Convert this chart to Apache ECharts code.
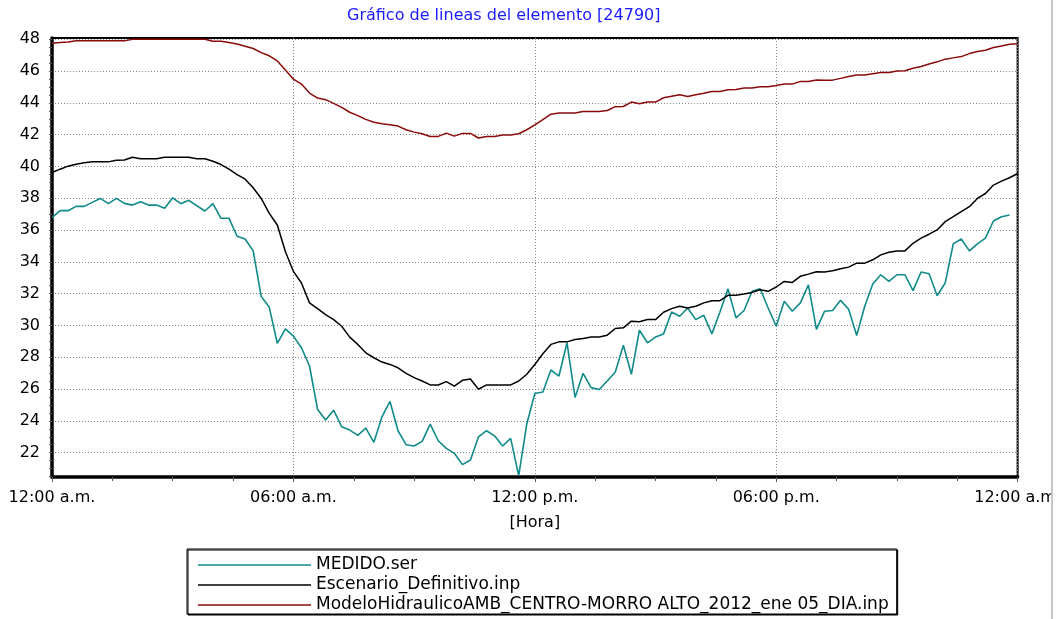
<!DOCTYPE html>
<html>
<head>
<meta charset="utf-8">
<script src="https://cdn.jsdelivr.net/npm/echarts@6/dist/echarts.min.js"></script>
<style>
  html, body { margin: 0; padding: 0; background: #fff; }
  #chart { width: 1064px; height: 619px; }
</style>
</head>
<body>
<div id="chart"></div>
<script>
// minutes between samples
const STEP_MIN = 12

const SERIES_NAMES = [
  'MEDIDO.ser',
  'Escenario_Definitivo.inp',
  'ModeloHidraulicoAMB_CENTRO-MORRO ALTO_2012_ene 05_DIA.inp'
]

// measured values, one every 12 minutes from 12:00 a.m.
const medido = [
  36.78, 37.22, 37.22, 37.49, 37.49, 37.74, 37.99, 37.66, 37.99, 37.68, 37.57, 37.78, 37.57,
  37.57, 37.37, 38.03, 37.66, 37.87, 37.53, 37.20, 37.66, 36.74, 36.74, 35.61, 35.44,
  34.69, 31.83, 31.14, 28.87, 29.79, 29.33, 28.6, 27.45, 24.73, 24.05, 24.67, 23.63,
  23.42, 23.09, 23.54, 22.65, 24.25, 25.22, 23.38, 22.50, 22.42, 22.71, 23.80, 22.75,
  22.27, 21.96, 21.25, 21.54, 23.0, 23.38, 23.06, 22.42, 22.90, 20.56, 23.80, 25.72,
  25.82, 27.2, 26.82, 28.91, 25.47, 26.99, 26.09, 25.97, 26.51, 27.07, 28.76,
  26.93, 29.70, 28.91, 29.27, 29.47, 30.85, 30.58, 31.10, 30.37, 30.64, 29.47, 30.83,
  32.31, 30.48, 30.94, 32.15, 32.31, 31.10, 29.95, 31.52, 30.89, 31.42, 32.56, 29.75,
  30.89, 30.94, 31.58, 31.02, 29.37, 31.21, 32.61, 33.19, 32.77, 33.19, 33.19, 32.19,
  33.36, 33.25, 31.87, 32.67, 35.13, 35.44, 34.69, 35.13, 35.49, 36.57, 36.84, 36.95
]

const escenario = [
  39.62, 39.83, 40.02, 40.14, 40.23, 40.29, 40.29, 40.29, 40.39, 40.41, 40.58, 40.48, 40.48,
  40.48, 40.58, 40.58, 40.58, 40.58, 40.48, 40.48, 40.33, 40.12, 39.83, 39.49, 39.20,
  38.66, 37.99, 37.05, 36.32, 34.65, 33.40, 32.67, 31.42, 31.06, 30.68, 30.37, 29.95,
  29.27, 28.81, 28.28, 27.97, 27.70, 27.55, 27.34, 26.99, 26.72, 26.51, 26.26, 26.26,
  26.47, 26.18, 26.55, 26.63, 25.99, 26.26, 26.26, 26.26, 26.26, 26.51, 26.93, 27.55,
  28.22, 28.81, 28.97, 28.97, 29.12, 29.18, 29.27, 29.27, 29.39, 29.81, 29.85,
  30.27, 30.23, 30.37, 30.37, 30.83, 31.06, 31.21, 31.10, 31.21, 31.42, 31.56, 31.56,
  31.90, 31.90, 31.98, 32.08, 32.25, 32.15, 32.42, 32.77, 32.71, 33.09, 33.23, 33.38,
  33.36, 33.44, 33.57, 33.67, 33.92, 33.92, 34.13, 34.44, 34.61, 34.69, 34.69, 35.17,
  35.49, 35.74, 36.01, 36.53, 36.84, 37.16, 37.47, 37.99, 38.30, 38.83, 39.08, 39.29, 39.56
]

const modelo = [
  47.75, 47.79, 47.83, 47.9, 47.9, 47.9, 47.9, 47.9, 47.9, 47.9, 48.0, 48.0, 48.0,
  48.0, 48.0, 48.0, 48.0, 48.0, 48.0, 48.0, 47.88, 47.87, 47.8, 47.7, 47.56,
  47.42, 47.16, 46.96, 46.64, 46.06, 45.49, 45.18, 44.62, 44.30, 44.20, 43.97, 43.72,
  43.41, 43.2, 42.96, 42.78, 42.68, 42.62, 42.54, 42.31, 42.16, 42.06, 41.89, 41.89,
  42.10, 41.91, 42.08, 42.08, 41.79, 41.89, 41.89, 41.98, 41.98, 42.06, 42.31, 42.62,
  42.94, 43.29, 43.37, 43.37, 43.37, 43.46, 43.46, 43.46, 43.52, 43.76, 43.77,
  44.05, 43.94, 44.05, 44.05, 44.32, 44.42, 44.51, 44.40, 44.51, 44.61, 44.72, 44.72,
  44.82, 44.84, 44.93, 44.93, 45.01, 45.01, 45.09, 45.18, 45.18, 45.35, 45.35, 45.44,
  45.43, 45.43, 45.54, 45.66, 45.75, 45.75, 45.83, 45.91, 45.91, 46.0, 46.02, 46.18,
  46.29, 46.45, 46.58, 46.75, 46.83, 46.91, 47.10, 47.23, 47.31, 47.48, 47.58, 47.69, 47.72
]

const X_TICKS = [0, 360, 720, 1080, 1440]
const X_LABELS = ['12:00 a.m.', '06:00 a.m.', '12:00 p.m.', '06:00 p.m.', '12:00 a.m.']
const Y_LABELS = [22, 24, 26, 28, 30, 32, 34, 36, 38, 40, 42, 44, 46, 48]
const Y_MIN = 20.47
const Y_MAX = 48.08

// minor ticks every 0.5
const yMinor = []
for (let v = 20.5; v <= 48; v += 0.5) yMinor.push(Math.round(v * 10) / 10)

const toPairs = (arr) => arr.map((v, i) => [i * STEP_MIN, v])

const FONT = 'DejaVu Sans'

const chart = echarts.init(document.getElementById('chart'))

const option = {
  animation: false,
  backgroundColor: '#fff',
  title: {
    text: 'Gráfico de lineas del elemento [24790]',
    left: 347,
    top: 8,
    padding: 0,
    textStyle: { fontFamily: FONT, fontSize: 16, fontWeight: 'normal', color: '#1a1aff' }
  },
  grid: {
    left: 52,
    right: 45.5,
    top: 38,
    bottom: 142,
    show: true,
    borderColor: '#000',
    borderWidth: 2
  },
  legend: {
    orient: 'vertical',
    left: 187,
    top: 549,
    padding: [7, 8, 0, 11],
    itemGap: 2,
    itemWidth: 113,
    itemHeight: 1.5,
    icon: 'rect',
    backgroundColor: '#fff',
    borderColor: '#000',
    borderWidth: 1,
    shadowColor: '#000',
    shadowOffsetX: 1,
    shadowOffsetY: 1,
    shadowBlur: 0,
    textStyle: { fontFamily: FONT, fontSize: 17, color: '#000', lineHeight: 18 },
    data: SERIES_NAMES
  },
  xAxis: {
    type: 'value',
    min: 0,
    max: 1440,
    interval: 360,
    name: '[Hora]',
    nameLocation: 'middle',
    nameGap: 38,
    nameTextStyle: { fontFamily: FONT, fontSize: 16, color: '#000' },
    axisLine: { show: true, lineStyle: { color: '#000', width: 3.5 } },
    axisTick: { show: true, length: 5, lineStyle: { color: '#555' } },
    minorTick: { show: true, splitNumber: 4, length: 4, lineStyle: { color: '#555' } },
    axisLabel: {
      margin: 13,
      fontFamily: FONT,
      fontSize: 16,
      color: '#000',
      formatter: (v) => X_LABELS[X_TICKS.indexOf(v)] || ''
    },
    splitLine: { show: true, lineStyle: { color: '#888', type: [1, 2], width: 1 } }
  },
  yAxis: [
    {
      type: 'value',
      min: Y_MIN,
      max: Y_MAX,
      axisLine: { show: true, lineStyle: { color: '#000', width: 3.5 } },
      axisTick: { show: true, length: 3, customValues: yMinor, lineStyle: { color: '#555' } },
      axisLabel: {
        customValues: Y_LABELS,
        margin: 12,
        fontFamily: FONT,
        fontSize: 16,
        color: '#000'
      },
      splitLine: { show: false }
    },
    {
      type: 'value',
      min: Y_MIN,
      max: Y_MAX,
      position: 'left',
      axisLine: { show: false },
      axisTick: { show: false, customValues: Y_LABELS },
      axisLabel: { show: false, customValues: Y_LABELS },
      splitLine: { show: true, lineStyle: { color: '#888', type: [1, 2], width: 1 } }
    }
  ],
  series: [
    {
      name: SERIES_NAMES[0],
      type: 'line',
      symbol: 'none',
      data: toPairs(medido),
      lineStyle: { color: '#108a8a', width: 1.6 },
      itemStyle: { color: '#108a8a' }
    },
    {
      name: SERIES_NAMES[1],
      type: 'line',
      symbol: 'none',
      data: toPairs(escenario),
      lineStyle: { color: '#000', width: 1.5 },
      itemStyle: { color: '#000' }
    },
    {
      name: SERIES_NAMES[2],
      type: 'line',
      symbol: 'none',
      data: toPairs(modelo),
      lineStyle: { color: '#8b0a0a', width: 1.5 },
      itemStyle: { color: '#8b0a0a' }
    }
  ],
  graphic: [
    {
      type: 'rect',
      z: 100,
      shape: { x: 1052, y: 0, width: 12, height: 619 },
      style: { fill: '#fff' }
    },
    {
      type: 'line',
      z: 101,
      shape: { x1: 1052, y1: 0, x2: 1052, y2: 619 },
      style: { stroke: '#c8c8c8', lineWidth: 2 }
    }
  ]
}

chart.setOption(option)
</script>
</body>
</html>
